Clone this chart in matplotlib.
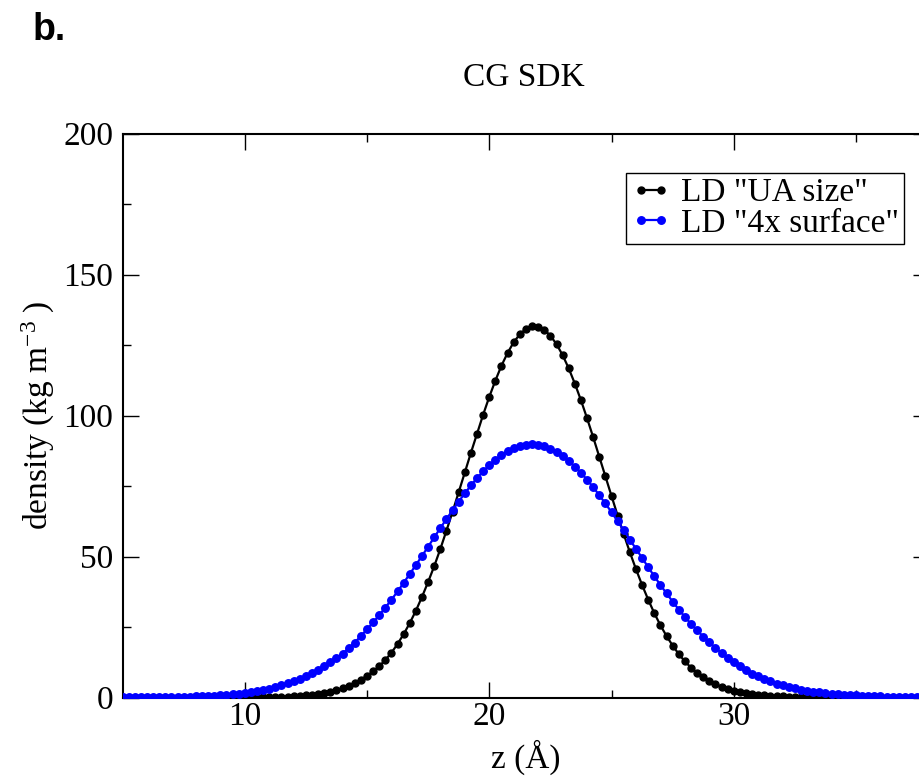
import numpy as np
import matplotlib
matplotlib.use("Agg")
import matplotlib.pyplot as plt

plt.rcParams['font.family'] = ['Liberation Serif', 'DejaVu Serif']
plt.rcParams['mathtext.fontset'] = 'custom'
plt.rcParams['mathtext.rm'] = 'Liberation Serif'
plt.rcParams['mathtext.it'] = 'Liberation Serif:italic'

# z grid (Angstrom), 0.25 A bins from 5 to 38
z = np.arange(5.0, 38.0001, 0.25)

# LD "UA size" density (kg m^-3)
ua_size = [
    0.0, 0.0, 0.0, 0.0,
    0.0, 0.0, 0.0, 0.0,
    0.0, 0.0, 0.0, 0.0,
    0.0, 0.01, 0.01, 0.01,
    0.01, 0.02, 0.02, 0.03,
    0.04, 0.06, 0.08, 0.11,
    0.15, 0.20, 0.26, 0.34,
    0.45, 0.58, 0.75, 0.97,
    1.25, 1.60, 2.05, 2.60,
    3.30, 4.15, 5.15, 6.30,
    7.70, 9.25, 11.1, 13.3,
    15.9, 19.0, 22.5, 26.4,
    30.8, 35.7, 41.0, 46.6,
    52.7, 59.2, 65.9, 72.8,
    79.8, 86.8, 93.6, 100.3,
    106.6, 112.4, 117.7, 122.2,
    126.0, 128.8, 130.7, 131.6,
    131.5, 130.4, 128.3, 125.3,
    121.4, 116.7, 111.3, 105.4,
    99.0, 92.3, 85.4, 78.4,
    71.4, 64.5, 57.9, 51.5,
    45.5, 39.9, 34.7, 29.9,
    25.6, 21.8, 18.4, 15.4,
    12.8, 10.6, 8.7, 7.1,
    5.8, 4.7, 3.8, 3.05,
    2.4, 1.95, 1.6, 1.3,
    1.05, 0.85, 0.68, 0.54,
    0.43, 0.34, 0.27, 0.21,
    0.16, 0.12, 0.09, 0.07,
    0.05, 0.04, 0.03, 0.02,
    0.02, 0.01, 0.01, 0.01,
    0.01, 0.0, 0.0, 0.0,
    0.0, 0.0, 0.0, 0.0,
    0.0,
]

# LD "4x surface" density (kg m^-3)
surface_4x = [
    0.03, 0.03, 0.04, 0.05,
    0.07, 0.09, 0.11, 0.13,
    0.17, 0.20, 0.25, 0.31,
    0.38, 0.46, 0.56, 0.68,
    0.81, 0.98, 1.17, 1.39,
    1.66, 1.96, 2.31, 2.72,
    3.18, 3.71, 4.31, 4.99,
    5.76, 6.62, 7.59, 8.66,
    9.85, 11.1, 12.5, 14.0,
    15.6, 17.4, 19.5, 21.8,
    24.2, 26.6, 29.2, 31.9,
    34.7, 37.6, 40.7, 43.8,
    47.0, 50.2, 53.5, 56.8,
    60.1, 63.3, 66.4, 69.5,
    72.4, 75.2, 77.8, 80.2,
    82.4, 84.3, 86.0, 87.4,
    88.5, 89.2, 89.7, 89.8,
    89.6, 89.1, 88.2, 87.1,
    85.6, 83.9, 81.9, 79.7,
    77.2, 74.6, 71.7, 68.8,
    65.7, 62.5, 59.3, 56.0,
    52.7, 49.5, 46.2, 43.0,
    39.9, 36.9, 34.0, 31.2,
    28.6, 26.1, 23.8, 21.6,
    19.6, 17.6, 15.8, 14.1,
    12.5, 11.0, 9.7, 8.5,
    7.45, 6.5, 5.7, 4.95,
    4.3, 3.7, 3.2, 2.8,
    2.4, 2.1, 1.8, 1.55,
    1.35, 1.15, 1.0, 0.85,
    0.72, 0.62, 0.52, 0.44,
    0.37, 0.31, 0.26, 0.22,
    0.18, 0.15, 0.12, 0.10,
    0.08,
]

series_labels = ['LD "UA size"', 'LD "4x surface"']
x_ticks = [10, 20, 30]
y_ticks = [0, 50, 100, 150, 200]

W, H = 919, 777
fig = plt.figure(figsize=(W / 100, H / 100), dpi=100)
ax = fig.add_axes([122.5 / W, (H - 697.5) / H, 806.9 / W, 564.0 / H])

ax.plot(z, ua_size, color='black', lw=1.6, marker='o', ms=5.0,
        mec='black', mfc='black', label=series_labels[0], zorder=3)
ax.plot(z, surface_4x, color='blue', lw=1.6, marker='o', ms=5.4,
        mec='blue', mfc='blue', label=series_labels[1], zorder=4)

ax.set_xlim(5, 38)
ax.set_ylim(0, 200)
ax.set_xticks(x_ticks)
ax.set_xticks([15, 25, 35], minor=True)
ax.set_yticks(y_ticks)
ax.set_yticks([25, 75, 125, 175], minor=True)

for s in ax.spines.values():
    s.set_linewidth(1.5)
ax.tick_params(which='both', direction='in', top=True, right=True,
               width=1.0, labelsize=24)
ax.tick_params(which='major', length=11.5)
ax.tick_params(which='minor', length=5.8)
ax.tick_params(axis='x', which='major', pad=3)
ax.tick_params(axis='y', which='major', pad=6.5)

leg = ax.legend(loc='upper right', bbox_to_anchor=(0.968, 0.930),
                borderaxespad=0, fontsize=24, numpoints=2,
                handlelength=1.2, handletextpad=0.3, borderpad=0.15,
                labelspacing=0.0, fancybox=False, frameon=True)
leg.get_frame().set_edgecolor('black')
leg.get_frame().set_linewidth(1.0)
leg.get_frame().set_alpha(1)

fig.text(524 / W, (H - 86) / H, 'CG SDK', ha='center', va='baseline', fontsize=24)
fig.text(525.7 / W, (H - 768) / H, 'z (Å)', ha='center', va='baseline', fontsize=24)
fig.text(38 / W, (H - 415.5) / H, r'density (kg m$^{\mathrm{-3}}$ )', rotation=90,
         ha='center', va='center', fontsize=24)
fig.text(33 / W, (H - 40) / H, 'b.', ha='left', va='baseline', fontsize=27,
         fontweight='bold', family=['Liberation Sans', 'DejaVu Sans'])

fig.savefig('out.png', dpi=100)
